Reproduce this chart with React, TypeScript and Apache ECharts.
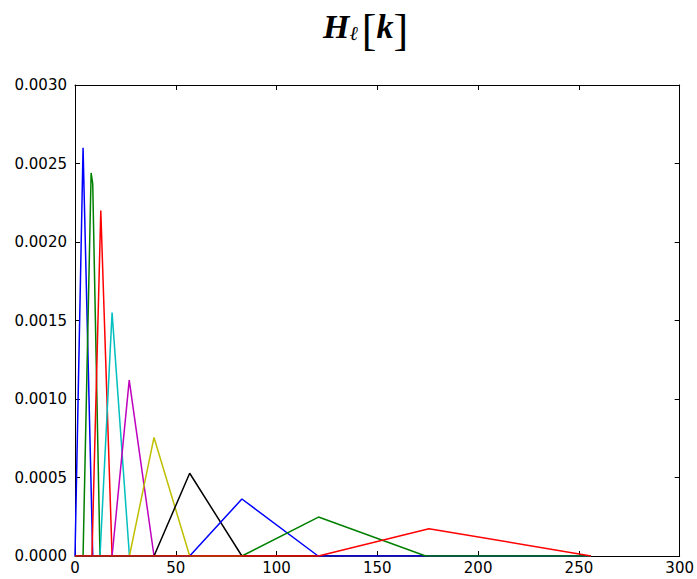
import React, { useEffect, useRef } from "react";
import * as echarts from "echarts";

// Triangular filter bank H_l[k], sampled over k = 0..256
const kMax = 256;
const filterNames = ["H1", "H2", "H3", "H4", "H5", "H6", "H7", "H8", "H9", "H10"];
// x positions (k) of each filter's vertices
const filterK: number[][] = [
  [0, 4, 8.8],
  [4, 8, 8.8, 12.4],
  [8.4, 12.8, 18.4],
  [12.4, 18.4, 27],
  [18.4, 26.9, 39.2],
  [27, 39.2, 56.9],
  [39.2, 56.9, 82.8],
  [56.9, 82.8, 120.6],
  [82.8, 120.8, 174],
  [120.8, 175.6, 256],
];
// y values at those vertices
const filterH: number[][] = [
  [0, 0.0026, 0],
  [0, 0.00244, 0.00237, 0],
  [0, 0.0022, 0],
  [0, 0.00155, 0],
  [0, 0.00112, 0],
  [0, 0.000755, 0],
  [0, 0.000527, 0],
  [0, 0.000363, 0],
  [0, 0.000248, 0],
  [0, 0.000174, 0],
];
const xTickStep = 50;
const yTickStep = 0.0005;

const palette = ["#0000ff", "#008000", "#ff0000", "#00bfbf", "#bf00bf", "#bfbf00", "#000000", "#0000ff", "#008000", "#ff0000"];

export default function App() {
  const ref = useRef<HTMLDivElement>(null);
  useEffect(() => {
    if (!ref.current) return;
    const chart = echarts.init(ref.current, null, { renderer: "svg" });
    const series = filterNames.map((name, i) => {
      const pts: number[][] = [];
      const ks = filterK[i];
      const hs = filterH[i];
      if (ks[0] > 0) pts.push([0, 0]);
      ks.forEach((k, j) => pts.push([k, hs[j]]));
      if (ks[ks.length - 1] < kMax) pts.push([kMax, 0]);
      return {
        name,
        type: "line",
        data: pts,
        showSymbol: false,
        symbol: "none",
        lineStyle: { color: palette[i], width: 1.5 },
        itemStyle: { color: palette[i] },
        xAxisIndex: 0,
        yAxisIndex: 0,
      };
    });
    const labelStyle = { color: "#000", fontFamily: "DejaVu Sans", fontSize: 15 };
    const axisLine = { show: true, onZero: false, lineStyle: { color: "#000", width: 1 } };
    const tick = { show: true, inside: true, length: 5, lineStyle: { color: "#000" } };
    chart.setOption({
      animation: false,
      backgroundColor: "#fff",
      title: {
        text: "{i|H}{s|ℓ}{n|[}{i|k}{n|]}",
        left: 323,
        top: 8,
        padding: 0,
        textStyle: {
          fontWeight: "normal",
          rich: {
            i: { fontFamily: "Liberation Serif", fontStyle: "italic", fontSize: 34, color: "#000", fontWeight: "bold", verticalAlign: "bottom", padding: [0, 0, 9, 0] },
            s: { fontFamily: "DejaVu Serif", fontStyle: "italic", fontSize: 20, color: "#000", fontWeight: "normal", verticalAlign: "bottom", padding: [0, 4, 9, 0] },
            n: { fontFamily: "Liberation Serif", fontSize: 44, color: "#000", fontWeight: "normal", verticalAlign: "bottom" },
          },
        },
      },
      grid: { left: 75, right: 13, top: 85, bottom: 23, containLabel: false },
      xAxis: [
        {
          type: "value", min: 0, max: 300, interval: xTickStep, position: "bottom",
          axisLine, axisTick: tick, splitLine: { show: false },
          axisLabel: { ...labelStyle, margin: 4 },
        },
        {
          type: "value", min: 0, max: 300, interval: xTickStep, position: "top",
          axisLine, axisTick: tick, splitLine: { show: false }, axisLabel: { show: false },
        },
      ],
      yAxis: [
        {
          type: "value", min: 0, max: 0.003, interval: yTickStep, position: "left",
          axisLine, axisTick: tick, splitLine: { show: false },
          axisLabel: { ...labelStyle, margin: 8, formatter: (v: number) => v.toFixed(4) },
        },
        {
          type: "value", min: 0, max: 0.003, interval: yTickStep, position: "right",
          axisLine, axisTick: tick, splitLine: { show: false }, axisLabel: { show: false },
        },
      ],
      series,
    });
    return () => chart.dispose();
  }, []);
  return <div ref={ref} style={{ width: 697, height: 579, position: "absolute", left: 0, top: 0 }} />;
}
